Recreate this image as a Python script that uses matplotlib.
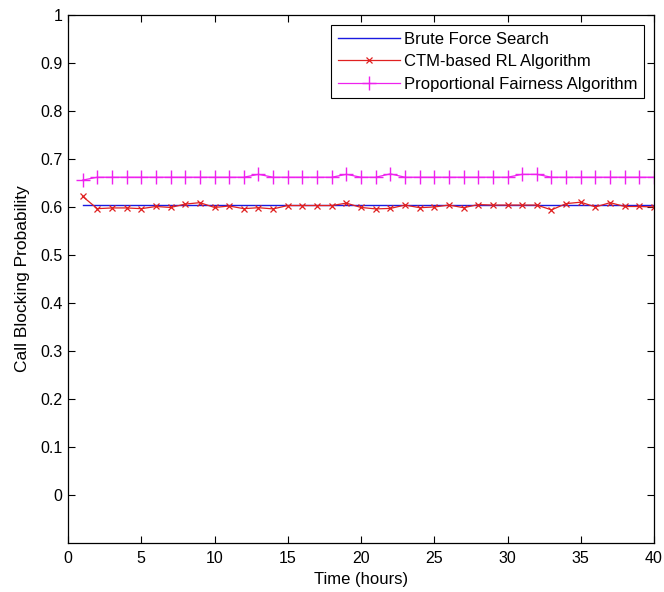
import matplotlib.pyplot as plt

plt.rcParams['font.family'] = ['Liberation Sans', 'DejaVu Sans']

hours = list(range(1, 41))

brute_force = [0.604] * 40

ctm_rl = [0.622, 0.5965, 0.598, 0.598, 0.5965, 0.601, 0.599, 0.606, 0.609, 0.599,
          0.602, 0.5965, 0.5985, 0.596, 0.603, 0.603, 0.603, 0.603, 0.608, 0.599,
          0.596, 0.597, 0.604, 0.5985, 0.600, 0.604, 0.5985, 0.605, 0.604, 0.604,
          0.604, 0.604, 0.594, 0.607, 0.610, 0.600, 0.609, 0.601, 0.601, 0.600]

prop_fair = [0.656, 0.662, 0.662, 0.662, 0.662, 0.662, 0.662, 0.662, 0.662, 0.662,
             0.662, 0.662, 0.668, 0.662, 0.662, 0.662, 0.662, 0.662, 0.668, 0.662,
             0.662, 0.669, 0.662, 0.662, 0.662, 0.662, 0.662, 0.662, 0.662, 0.662,
             0.668, 0.668, 0.662, 0.662, 0.662, 0.662, 0.662, 0.662, 0.662, 0.662]

fig = plt.figure(figsize=(6.64, 5.92), dpi=100)
ax = fig.add_axes([0.1024, 0.0828, 0.8826, 0.8919])

ax.plot(hours, brute_force, color='#1a1ae0', lw=1.0, label='Brute Force Search')
ax.plot(hours, ctm_rl, color='#e02020', lw=0.9, marker='x', ms=4, mew=0.9,
        label='CTM-based RL Algorithm')
ax.plot(hours, prop_fair, color='#ee22ee', lw=0.9, marker='+', ms=10, mew=1.0,
        label='Proportional Fairness Algorithm')

ax.set_xlim(0, 40)
ax.set_ylim(-0.1, 1)
ax.set_xticks(range(0, 41, 5))
ax.set_yticks([i / 10 for i in range(11)])
ax.set_yticklabels(['0'] + ['%.1f' % (i / 10) for i in range(1, 10)] + ['1'])
ax.tick_params(direction='in', length=5, width=0.8, top=True, right=True,
               labelsize=11.5, pad=4)
ax.tick_params(axis='x', pad=6)
for s in ax.spines.values():
    s.set_linewidth(0.9)

ax.set_xlabel('Time (hours)', fontsize=12, labelpad=4)
ax.set_ylabel('Call Blocking Probability', fontsize=12.5, labelpad=7)

leg = ax.legend(loc='upper right', fontsize=12, fancybox=False, framealpha=1,
                edgecolor='black', borderaxespad=0.6, handlelength=3.7,
                handletextpad=0.25, labelspacing=0.45, borderpad=0.4)
leg.get_frame().set_linewidth(0.8)

fig.savefig('out.png', dpi=100)
